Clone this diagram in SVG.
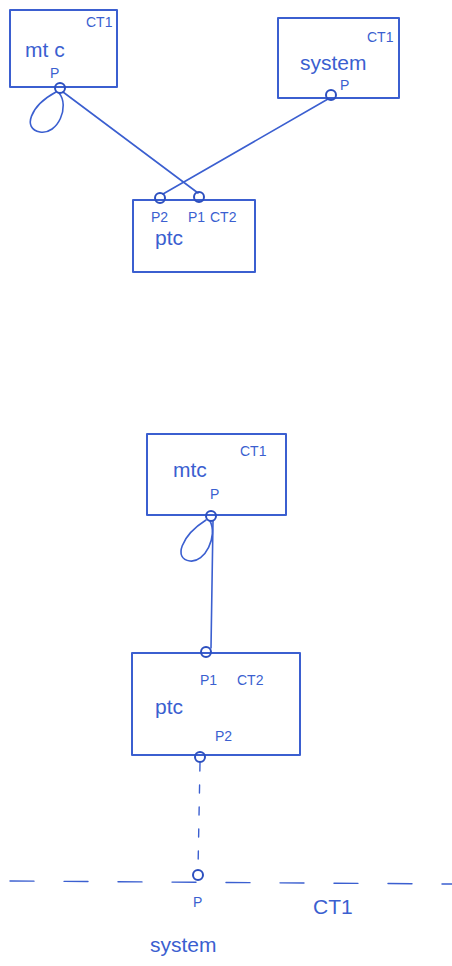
<svg xmlns="http://www.w3.org/2000/svg" width="452" height="966" viewBox="0 0 452 966">
  <style>
    .box { fill: none; stroke: #3b5fd0; stroke-width: 2; stroke-linejoin: round; }
    .wire { fill: none; stroke: #3b5fd0; stroke-width: 1.6; stroke-linecap: round; }
    .dash { fill: none; stroke: #3b5fd0; stroke-width: 1.4; stroke-dasharray: 8 14; stroke-linecap: round; }
    .bound { fill: none; stroke: #3b5fd0; stroke-width: 1.4; stroke-dasharray: 24 30; stroke-linecap: round; }
    .port { fill: none; stroke: #2c4fbf; stroke-width: 2; }
    .lbl { fill: #3b5fd0; font-family: "Liberation Sans", "DejaVu Sans", sans-serif; }
    .name { font-size: 21px; }
    .ct { font-size: 14px; }
    .pn { font-size: 14px; }
  </style>

  <!-- connectors -->
  <g id="connectors">
    <line class="wire" x1="63" y1="92" x2="198" y2="193"/>
    <line class="wire" x1="328" y1="99" x2="163" y2="194"/>
    <path class="wire" d="M59,93 C70,106 58,135 40,132 C22,129 30,106 56,92"/>
    <line class="wire" x1="213" y1="521" x2="211" y2="648"/>
    <path class="wire" d="M210,521 C218,536 205,563 190,561 C173,559 181,536 206,520"/>
    <line class="dash" x1="200" y1="763" x2="198" y2="870"/>
    <line class="bound" x1="10" y1="881" x2="452" y2="884"/>
  </g>

  <!-- top: mtc -->
  <g id="mtc-top">
    <rect class="box" x="10" y="10" width="107" height="77"/>
    <text class="lbl ct" x="86" y="27">CT1</text>
    <text class="lbl name" x="25" y="57">mt c</text>
    <text class="lbl pn" x="50" y="78">P</text>
    <circle class="port" cx="60" cy="88" r="5"/>
  </g>

  <!-- top: system -->
  <g id="system-top">
    <rect class="box" x="278" y="18" width="121" height="80"/>
    <text class="lbl ct" x="367" y="42">CT1</text>
    <text class="lbl name" x="300" y="70">system</text>
    <text class="lbl pn" x="340" y="90">P</text>
    <circle class="port" cx="331" cy="95" r="5"/>
  </g>

  <!-- top: ptc -->
  <g id="ptc-top">
    <rect class="box" x="133" y="200" width="122" height="72"/>
    <circle class="port" cx="160" cy="198" r="5"/>
    <circle class="port" cx="199" cy="197" r="5"/>
    <text class="lbl pn" x="151" y="222">P2</text>
    <text class="lbl pn" x="188" y="222">P1</text>
    <text class="lbl pn" x="210" y="222">CT2</text>
    <text class="lbl name" x="155" y="245">ptc</text>
  </g>

  <!-- bottom: mtc -->
  <g id="mtc-bottom">
    <rect class="box" x="147" y="434" width="139" height="81"/>
    <text class="lbl ct" x="240" y="456">CT1</text>
    <text class="lbl name" x="173" y="477">mtc</text>
    <text class="lbl pn" x="210" y="499">P</text>
    <circle class="port" cx="211" cy="516" r="5"/>
  </g>

  <!-- bottom: ptc -->
  <g id="ptc-bottom">
    <rect class="box" x="132" y="653" width="168" height="102"/>
    <circle class="port" cx="206" cy="652" r="5"/>
    <circle class="port" cx="200" cy="757" r="5"/>
    <text class="lbl pn" x="200" y="685">P1</text>
    <text class="lbl pn" x="237" y="685">CT2</text>
    <text class="lbl name" x="155" y="714">ptc</text>
    <text class="lbl pn" x="215" y="741">P2</text>
  </g>

  <!-- bottom: system boundary -->
  <g id="system-bottom">
    <circle class="port" cx="198" cy="875" r="5"/>
    <text class="lbl pn" x="193" y="907">P</text>
    <text class="lbl name" x="313" y="914">CT1</text>
    <text class="lbl name" x="150" y="952">system</text>
  </g>
</svg>
